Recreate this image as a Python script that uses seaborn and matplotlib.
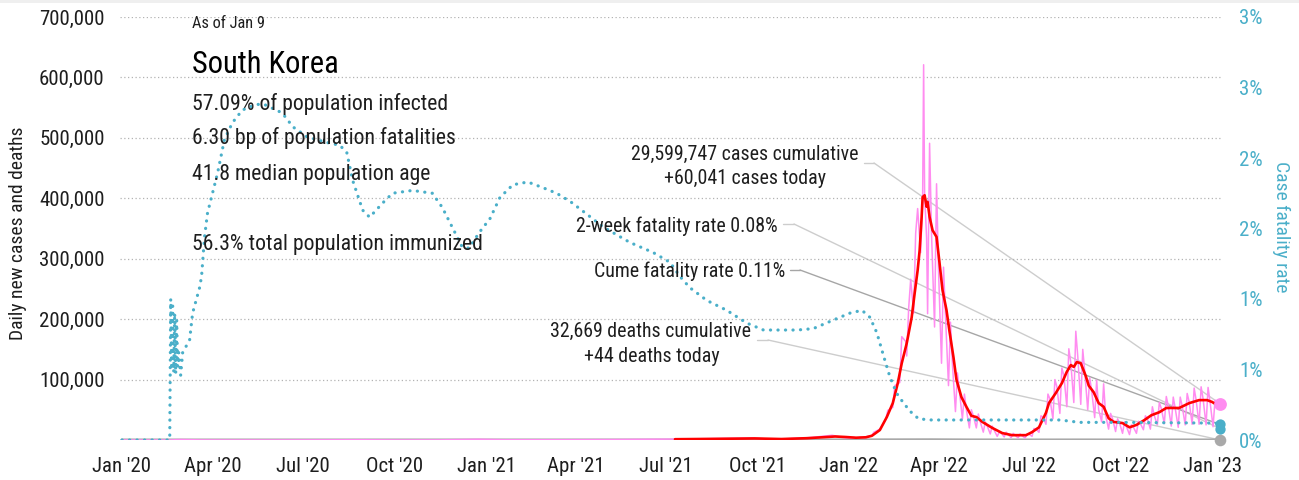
import pandas as pd
import matplotlib
matplotlib.use("Agg")
import matplotlib.pyplot as plt
import matplotlib.dates as mdates
from matplotlib import font_manager
from matplotlib.lines import Line2D
from matplotlib.patches import ConnectionPatch, Rectangle
import seaborn as sns

# ---------------------------------------------------------------- data
# Daily new cases (thin pink line)
case_dates = [
    "2020-01-01", "2020-01-20", "2020-02-18", "2020-02-29", "2020-03-20", "2020-04-20",
    "2020-06-01", "2020-08-27", "2020-10-05", "2020-11-15", "2020-12-25", "2021-01-20",
    "2021-03-15", "2021-05-05", "2021-07-14", "2021-08-11", "2021-09-25", "2021-10-18",
    "2021-11-24", "2021-12-15", "2021-12-27",
    "2022-01-03", "2022-01-05", "2022-01-10", "2022-01-12", "2022-01-17", "2022-01-19",
    "2022-01-24", "2022-01-26", "2022-01-31", "2022-02-02", "2022-02-07", "2022-02-09",
    "2022-02-14", "2022-02-16", "2022-02-21", "2022-02-23", "2022-02-27", "2022-02-28",
    "2022-03-02", "2022-03-04", "2022-03-07", "2022-03-09", "2022-03-11", "2022-03-14",
    "2022-03-16", "2022-03-17", "2022-03-18", "2022-03-20", "2022-03-21", "2022-03-23",
    "2022-03-25", "2022-03-28", "2022-03-30", "2022-04-01", "2022-04-04", "2022-04-06",
    "2022-04-08", "2022-04-11", "2022-04-13", "2022-04-15", "2022-04-18", "2022-04-20",
    "2022-04-22", "2022-04-25", "2022-04-27", "2022-04-29", "2022-05-02", "2022-05-04",
    "2022-05-06", "2022-05-09", "2022-05-11", "2022-05-13", "2022-05-16", "2022-05-18",
    "2022-05-20", "2022-05-23", "2022-05-25", "2022-05-27", "2022-05-30", "2022-06-01",
    "2022-06-03", "2022-06-06", "2022-06-08", "2022-06-10", "2022-06-13", "2022-06-15",
    "2022-06-17", "2022-06-20", "2022-06-22", "2022-06-24", "2022-06-27", "2022-06-29",
    "2022-07-01", "2022-07-04", "2022-07-06", "2022-07-08", "2022-07-11", "2022-07-13",
    "2022-07-15", "2022-07-18", "2022-07-20", "2022-07-22", "2022-07-25", "2022-07-27",
    "2022-07-29", "2022-08-01", "2022-08-03", "2022-08-05", "2022-08-08", "2022-08-10",
    "2022-08-12", "2022-08-15", "2022-08-17", "2022-08-19", "2022-08-22", "2022-08-24",
    "2022-08-26", "2022-08-29", "2022-08-31", "2022-09-02", "2022-09-05", "2022-09-07",
    "2022-09-09", "2022-09-12", "2022-09-14", "2022-09-16", "2022-09-19", "2022-09-21",
    "2022-09-23", "2022-09-26", "2022-09-28", "2022-09-30", "2022-10-03", "2022-10-05",
    "2022-10-07", "2022-10-10", "2022-10-12", "2022-10-14", "2022-10-17", "2022-10-19",
    "2022-10-21", "2022-10-24", "2022-10-26", "2022-10-28", "2022-10-31", "2022-11-02",
    "2022-11-04", "2022-11-07", "2022-11-09", "2022-11-11", "2022-11-14", "2022-11-16",
    "2022-11-18", "2022-11-21", "2022-11-23", "2022-11-25", "2022-11-28", "2022-11-30",
    "2022-12-02", "2022-12-05", "2022-12-07", "2022-12-09", "2022-12-12", "2022-12-14",
    "2022-12-16", "2022-12-19", "2022-12-21", "2022-12-23", "2022-12-26", "2022-12-28",
    "2022-12-30", "2023-01-02", "2023-01-04", "2023-01-06", "2023-01-09",
]
case_daily = [
    0, 1, 15, 813, 147, 13,
    35, 441, 73, 208, 1241, 404,
    382, 676, 1614, 2223, 3273, 1050,
    4116, 7850, 3865,
    3100, 4400, 3000, 4500, 3900, 5800,
    7500, 13000, 17000, 20000, 35000, 49000,
    54000, 90000, 95000, 171000, 163000, 139000,
    219000, 266000, 210000, 342000, 383000, 310000,
    400000, 621000, 407000, 334000, 209000, 491000,
    339000, 187000, 424000, 280000, 127000, 286000,
    205000, 90000, 195000, 125000, 47000, 111000,
    81000, 35000, 76000, 50000, 20000, 50000,
    40000, 20000, 43000, 30000, 13000, 30000,
    23000, 10000, 23000, 16000, 6000, 13000,
    12000, 5000, 13000, 9000, 3800, 11000,
    8000, 3400, 10000, 7000, 3400, 10000,
    9500, 6000, 19000, 18000, 12700, 40000,
    38000, 26000, 76000, 68000, 35000, 100000,
    88000, 44000, 119000, 107000, 55000, 151000,
    128000, 62000, 180000, 138000, 59000, 150000,
    113000, 50000, 103000, 81000, 37000, 99000,
    50000, 30000, 93000, 41000, 18000, 44000,
    35000, 14000, 35000, 28000, 11000, 30000,
    22000, 9000, 25000, 21000, 11000, 31000,
    27000, 17000, 40000, 35000, 18000, 55000,
    40000, 25000, 62000, 52000, 27000, 72000,
    56000, 23000, 71000, 52000, 21000, 71000,
    56000, 25000, 77000, 63000, 26000, 86000,
    66000, 26000, 88000, 68000, 25000, 87000,
    63000, 22000, 66000, 55000, 60041,
]

# 7-day average of new cases (red line)
avg_dates = [
    "2021-07-10", "2021-08-15", "2021-09-28", "2021-10-25", "2021-11-20", "2021-12-05",
    "2021-12-18", "2021-12-28", "2022-01-08", "2022-01-18", "2022-01-24", "2022-02-01",
    "2022-02-08", "2022-02-14", "2022-02-19", "2022-02-23", "2022-02-28", "2022-03-05",
    "2022-03-08", "2022-03-11", "2022-03-13", "2022-03-15", "2022-03-16", "2022-03-18",
    "2022-03-20", "2022-03-21", "2022-03-23", "2022-03-26", "2022-03-30", "2022-04-02",
    "2022-04-05", "2022-04-09", "2022-04-12", "2022-04-16", "2022-04-19", "2022-04-24",
    "2022-04-29", "2022-05-04", "2022-05-09", "2022-05-15", "2022-05-25", "2022-06-04",
    "2022-06-14", "2022-06-28", "2022-07-04", "2022-07-11", "2022-07-18", "2022-07-21",
    "2022-07-28", "2022-08-03", "2022-08-08", "2022-08-12", "2022-08-15", "2022-08-18",
    "2022-08-22", "2022-08-27", "2022-08-30", "2022-09-04", "2022-09-09", "2022-09-14",
    "2022-09-19", "2022-09-24", "2022-10-03", "2022-10-10", "2022-10-17", "2022-10-25",
    "2022-11-01", "2022-11-09", "2022-11-16", "2022-11-29", "2022-12-09", "2022-12-19",
    "2022-12-27", "2023-01-01", "2023-01-09",
]
avg_cases = [
    1300, 1800, 2600, 1600, 3000, 4500,
    5800, 5000, 3800, 4500, 7000, 16500,
    38000, 61000, 94000, 127000, 160000, 203000,
    243000, 281000, 314000, 369000, 402000, 405000,
    386000, 394000, 369000, 347000, 336000, 293000,
    248000, 215000, 180000, 137000, 100000, 71000,
    55000, 40000, 38000, 30000, 20000, 11500,
    8000, 8000, 13000, 21000, 45000, 61000,
    78000, 94000, 113000, 124000, 121000, 129000,
    127000, 106000, 90000, 79000, 61000, 55000,
    36000, 30000, 28000, 21000, 25000, 33000,
    41000, 46000, 53000, 53000, 61000, 66000,
    66000, 63000, 55000,
]

# Daily deaths (grey line along the baseline)
death_dates = [
    "2020-01-01", "2020-03-15", "2020-09-01", "2020-12-25", "2021-06-01", "2021-12-20",
    "2022-03-25", "2022-05-01", "2022-07-01", "2022-08-25", "2022-10-15", "2022-12-25",
    "2023-01-09",
]
daily_deaths = [0, 5, 3, 20, 3, 80, 360, 100, 10, 80, 20, 50, 44]

# Cumulative case fatality rate, in percent (dotted teal line, right axis)
cfr_dates = [
    "2020-01-01", "2020-02-18", "2020-02-19", "2020-02-20", "2020-02-21", "2020-02-22",
    "2020-02-23", "2020-02-24", "2020-02-25", "2020-02-26", "2020-02-27", "2020-02-29",
    "2020-03-02", "2020-03-09", "2020-03-12", "2020-03-19", "2020-03-21", "2020-03-24",
    "2020-03-27", "2020-04-01", "2020-04-06", "2020-04-13", "2020-04-21", "2020-05-01",
    "2020-05-15", "2020-05-23", "2020-06-04", "2020-06-10", "2020-06-21", "2020-07-05",
    "2020-07-25", "2020-08-07", "2020-08-14", "2020-08-20", "2020-08-30", "2020-09-06",
    "2020-09-19", "2020-09-29", "2020-10-19", "2020-11-08", "2020-11-18", "2020-11-28",
    "2020-12-08", "2020-12-15", "2020-12-25", "2021-01-05", "2021-01-15", "2021-01-28",
    "2021-02-12", "2021-02-27", "2021-03-13", "2021-03-27", "2021-04-09", "2021-04-29",
    "2021-05-26", "2021-06-18", "2021-07-05", "2021-07-15", "2021-07-25", "2021-08-11",
    "2021-08-31", "2021-09-20", "2021-10-07", "2021-11-10", "2021-11-26", "2021-12-16",
    "2022-01-02", "2022-01-14", "2022-01-22", "2022-01-29", "2022-02-05", "2022-02-11",
    "2022-02-18", "2022-02-25", "2022-03-04", "2022-03-12", "2022-03-25", "2022-04-29",
    "2022-07-05", "2022-08-01", "2022-08-21", "2022-09-30", "2023-01-04", "2023-01-09",
]
cfr_pct = [
    0.0, 0.0, 1.00, 0.50, 0.95, 0.48,
    0.90, 0.47, 0.85, 0.52, 0.62, 0.46,
    0.62, 0.71, 0.90, 1.08, 1.16, 1.44,
    1.61, 1.75, 1.89, 2.13, 2.25, 2.34,
    2.38, 2.38, 2.34, 2.32, 2.22, 2.15,
    2.11, 2.09, 2.04, 1.84, 1.63, 1.58,
    1.68, 1.75, 1.77, 1.75, 1.65, 1.51,
    1.37, 1.36, 1.47, 1.57, 1.72, 1.81,
    1.83, 1.79, 1.75, 1.69, 1.62, 1.51,
    1.40, 1.33, 1.26, 1.16, 1.08, 0.99,
    0.92, 0.83, 0.78, 0.78, 0.79, 0.85,
    0.90, 0.92, 0.87, 0.76, 0.59, 0.45,
    0.33, 0.26, 0.20, 0.15, 0.142, 0.142,
    0.142, 0.142, 0.125, 0.125, 0.12, 0.115,
]

# Latest figures
cases_cumulative = 29599747
cases_today = 60041
deaths_cumulative = 32669
deaths_today = 44
cfr_two_week = 0.08
cfr_cume = 0.11
as_of = "Jan 9"
last_day = "2023-01-09"

country = "South Korea"
profile_lines = [
    "57.09% of population infected",
    "6.30 bp of population fatalities",
    "41.8 median population age",
]
immunized_line = "56.3% total population immunized"

left_ticks = [0, 100000, 200000, 300000, 400000, 500000, 600000, 700000]
left_tick_labels = ["", "100,000", "200,000", "300,000", "400,000", "500,000", "600,000", "700,000"]
right_ticks = [0.0, 0.5, 1.0, 1.5, 2.0, 2.5, 3.0]
right_tick_labels = ["0%", "1%", "1%", "2%", "2%", "3%", "3%"]
x_tick_dates = ["2020-01-01", "2020-04-01", "2020-07-01", "2020-10-01", "2021-01-01",
                "2021-04-01", "2021-07-01", "2021-10-01", "2022-01-01", "2022-04-01",
                "2022-07-01", "2022-10-01", "2023-01-01"]
x_tick_labels = ["Jan '20", "Apr '20", "Jul '20", "Oct '20", "Jan '21", "Apr '21", "Jul '21",
                 "Oct '21", "Jan '22", "Apr '22", "Jul '22", "Oct '22", "Jan '23"]

# ---------------------------------------------------------------- style
PINK = "#ff8cf0"
RED = "#ff0000"
TEAL = "#4aafc9"
GREY = "#a9a9a9"
LEADER = "#cdcdcd"
LEADER_DARK = "#a6a6a6"
INK = "#1e1e1e"

sns.set_theme(style="white")


def pick_font():
    entries = font_manager.fontManager.ttflist
    names = {f.name for f in entries}
    for cand in ["Liberation Sans Narrow", "Roboto Condensed", "Open Sans Condensed"]:
        if cand in names:
            return cand, "normal"
    for fam in ["Noto Sans", "Open Sans", "Roboto", "Inter"]:
        for f in entries:
            if f.name == fam and "condensed" in str(f.stretch):
                return fam, "condensed"
    return "Roboto", "normal"


FONT, STRETCH = pick_font()
plt.rcParams["font.family"] = [FONT, "DejaVu Sans"]
plt.rcParams["font.stretch"] = STRETCH

W_PX, H_PX = 1299, 480
fig = plt.figure(figsize=(W_PX / 100, H_PX / 100), dpi=100)
fig.patch.set_facecolor("white")


def fx(px):
    return px / W_PX


def fy(py):
    return 1 - py / H_PX


fig.add_artist(Rectangle((0, fy(3)), 1, 3 / H_PX, transform=fig.transFigure,
                         facecolor="#efefef", edgecolor="none", zorder=-5))

ax = fig.add_axes([fx(120), fy(440), 1101 / W_PX, 423 / H_PX])
ax.patch.set_visible(False)

df_cases = pd.DataFrame({"date": pd.to_datetime(case_dates), "cases": case_daily})
df_avg = pd.DataFrame({"date": pd.to_datetime(avg_dates), "avg": avg_cases})
df_deaths = pd.DataFrame({"date": pd.to_datetime(death_dates), "deaths": daily_deaths})
df_cfr = pd.DataFrame({"date": pd.to_datetime(cfr_dates), "cfr": cfr_pct})

sns.lineplot(data=df_deaths, x="date", y="deaths", ax=ax, color=GREY, linewidth=2.2,
             errorbar=None, zorder=2)
sns.lineplot(data=df_cases, x="date", y="cases", ax=ax, color=PINK, linewidth=1.1,
             errorbar=None, zorder=3)
sns.lineplot(data=df_avg, x="date", y="avg", ax=ax, color=RED, linewidth=1.9,
             errorbar=None, zorder=4)

ax.set_xlim(pd.Timestamp("2019-12-30"), pd.Timestamp("2023-01-10"))
ax.set_ylim(0, 700000)
ax.set_yticks(left_ticks)
ax.set_yticklabels(left_tick_labels)
ax.set_xticks(pd.to_datetime(x_tick_dates))
ax.set_xticklabels(x_tick_labels)
ax.grid(axis="y", color="#b3b3b3", linestyle=(0, (1, 2)), linewidth=0.9)
ax.grid(axis="x", visible=False)
ax.tick_params(axis="y", length=0, pad=11, labelsize=15, labelcolor=INK)
ax.tick_params(axis="x", length=0, pad=12, labelsize=15, labelcolor=INK)
ax.set_xlabel("")
ax.set_ylabel("")
for s in ax.spines.values():
    s.set_visible(False)

ax2 = ax.twinx()
sns.lineplot(data=df_cfr, x="date", y="cfr", ax=ax2, color=TEAL, linewidth=2.3,
             linestyle=(0, (0.05, 2.3)), dash_capstyle="round", errorbar=None)
ax2.set_ylim(0, 3.0)
ax2.set_yticks(right_ticks)
ax2.set_yticklabels(right_tick_labels)
ax2.tick_params(axis="y", length=0, pad=13, labelsize=15, labelcolor=TEAL)
ax2.set_ylabel("")
ax2.set_xlabel("")
ax2.grid(False)
for s in ax2.spines.values():
    s.set_visible(False)
ax.set_xlim(pd.Timestamp("2019-12-30"), pd.Timestamp("2023-01-10"))

# Latest-value markers at the right end
end = pd.Timestamp(last_day)
sns.scatterplot(x=[end], y=[deaths_today], ax=ax, color=GREY, s=70, linewidth=0,
                clip_on=False, zorder=6)
sns.scatterplot(x=[end], y=[cases_today], ax=ax, color=PINK, s=85, linewidth=0,
                clip_on=False, zorder=6)
sns.scatterplot(x=[end, end], y=[cfr_cume, cfr_two_week], ax=ax2, color=TEAL, s=55,
                linewidth=0, clip_on=False, zorder=6)

# Axis titles
fig.text(fx(18), fy(233), "Daily new cases and deaths", rotation=90, ha="center",
         va="center", fontsize=14, color=INK)
fig.text(fx(1281), fy(227), "Case fatality rate", rotation=270, ha="center",
         va="center", fontsize=14, color=TEAL)

# Country profile block
fig.text(fx(192), fy(28), f"As of {as_of}", fontsize=11.8, color=INK, va="baseline")
fig.text(fx(192), fy(73), country, fontsize=22, color="black", va="baseline")
for line, base in zip(profile_lines, [110, 144, 180]):
    fig.text(fx(192), fy(base), line, fontsize=15.7, color=INK, va="baseline")
fig.text(fx(192), fy(250), immunized_line, fontsize=15.7, color=INK, va="baseline")

# Callouts for the latest values, with leader lines to the end markers
CALL = 14.3
fig.text(fx(745), fy(160), f"{cases_cumulative:,} cases cumulative", fontsize=CALL,
         color=INK, ha="center", va="baseline")
fig.text(fx(745), fy(184), f"+{cases_today:,} cases today", fontsize=CALL,
         color=INK, ha="center", va="baseline")
fig.text(fx(778), fy(232), f"2-week fatality rate {cfr_two_week:.2f}%", fontsize=CALL,
         color=INK, ha="right", va="baseline")
fig.text(fx(785), fy(277), f"Cume fatality rate {cfr_cume:.2f}%", fontsize=CALL,
         color=INK, ha="right", va="baseline")
fig.text(fx(651), fy(337), f"{deaths_cumulative:,} deaths cumulative", fontsize=CALL,
         color=INK, ha="center", va="baseline")
fig.text(fx(652), fy(362), f"+{deaths_today} deaths today", fontsize=CALL,
         color=INK, ha="center", va="baseline")


def leader(start, bend, target, target_ax, color):
    fig.add_artist(Line2D([fx(start[0]), fx(bend[0])], [fy(start[1]), fy(bend[1])],
                          transform=fig.transFigure, color=color, linewidth=1.0,
                          zorder=-1))
    cp = ConnectionPatch(xyA=(fx(bend[0]), fy(bend[1])), coordsA=fig.transFigure,
                         xyB=(mdates.date2num(end), target), coordsB=target_ax.transData,
                         color=color, linewidth=1.0, zorder=-1)
    fig.add_artist(cp)


leader((864, 163), (874, 163), cases_today, ax, LEADER)
leader((783, 224), (794, 224), cfr_two_week, ax2, LEADER)
leader((790, 270), (800, 270), cfr_cume, ax2, LEADER_DARK)
leader((757, 340), (768, 340), deaths_today, ax, LEADER)

fig.savefig("out.png", dpi=100, facecolor="white")
